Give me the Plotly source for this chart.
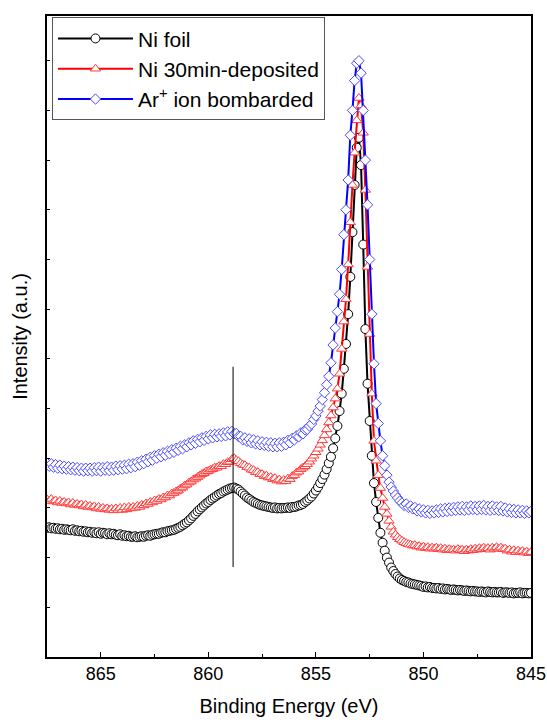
import numpy as np
import plotly.graph_objects as go

# Binding energy grid (eV), 0.1 eV step, 867.5 -> 845.0
energy = np.round(867.5 - 0.1 * np.arange(226), 1)

# Intensities (a.u.)
ni_foil = [
    2.60, 2.61, 2.59, 2.60, 2.58, 2.59, 2.57, 2.58, 2.56, 2.57,
    2.56, 2.55, 2.57, 2.54, 2.55, 2.53, 2.54, 2.52, 2.53, 2.51,
    2.52, 2.50, 2.51, 2.49, 2.51, 2.48, 2.50, 2.49, 2.47, 2.49,
    2.47, 2.48, 2.46, 2.45, 2.47, 2.44, 2.45, 2.43, 2.44, 2.42,
    2.42, 2.43, 2.41, 2.42, 2.43, 2.42, 2.44, 2.45, 2.44, 2.46,
    2.47, 2.48, 2.48, 2.50, 2.51, 2.51, 2.53, 2.54, 2.55, 2.56,
    2.58, 2.60, 2.62, 2.65, 2.68, 2.71, 2.75, 2.79, 2.84, 2.88,
    2.93, 2.97, 3.01, 3.05, 3.09, 3.12, 3.16, 3.19, 3.22, 3.25,
    3.28, 3.30, 3.33, 3.35, 3.37, 3.39, 3.40, 3.41, 3.39, 3.37,
    3.33, 3.29, 3.25, 3.21, 3.18, 3.15, 3.12, 3.10, 3.08, 3.06,
    3.05, 3.04, 3.03, 3.02, 3.01, 3.00, 3.01, 2.99, 3.00, 2.99,
    3.00, 3.00, 3.01, 3.00, 3.02, 3.02, 3.03, 3.05, 3.06, 3.08,
    3.12, 3.15, 3.19, 3.23, 3.29, 3.35, 3.42, 3.50, 3.58, 3.67,
    3.78, 3.90, 4.03, 4.20, 4.40, 4.65, 4.95, 5.30, 5.80, 6.30,
    6.90, 7.65, 8.55, 9.50, 10.25, 10.45, 9.90, 8.30, 6.60, 5.50,
    4.75, 4.05, 3.50, 3.12, 2.80, 2.50, 2.30, 2.14, 2.00, 1.90,
    1.80, 1.73, 1.67, 1.62, 1.58, 1.55, 1.53, 1.51, 1.50, 1.48,
    1.47, 1.46, 1.45, 1.44, 1.43, 1.41, 1.42, 1.40, 1.41, 1.39,
    1.39, 1.38, 1.39, 1.37, 1.38, 1.36, 1.37, 1.36, 1.35, 1.36,
    1.35, 1.34, 1.35, 1.34, 1.33, 1.34, 1.33, 1.32, 1.33, 1.32,
    1.32, 1.31, 1.32, 1.31, 1.30, 1.32, 1.31, 1.30, 1.31, 1.30,
    1.30, 1.31, 1.29, 1.30, 1.30, 1.29, 1.30, 1.28, 1.29, 1.29,
    1.30, 1.28, 1.29, 1.29, 1.28, 1.29,
]

ni_30min = [
    3.17, 3.14, 3.18, 3.13, 3.15, 3.11, 3.14, 3.10, 3.12, 3.09,
    3.11, 3.07, 3.10, 3.06, 3.08, 3.05, 3.07, 3.03, 3.06, 3.02,
    3.04, 3.01, 3.03, 2.99, 3.02, 2.98, 3.00, 2.97, 2.99, 2.96,
    2.98, 2.95, 2.99, 2.96, 3.00, 2.96, 3.01, 2.97, 3.02, 2.99,
    3.02, 3.00, 3.04, 3.02, 3.06, 3.05, 3.09, 3.08, 3.12, 3.11,
    3.15, 3.14, 3.18, 3.17, 3.21, 3.21, 3.25, 3.25, 3.29, 3.30,
    3.33, 3.35, 3.39, 3.41, 3.45, 3.47, 3.51, 3.53, 3.57, 3.59,
    3.62, 3.65, 3.68, 3.70, 3.73, 3.74, 3.77, 3.78, 3.81, 3.81,
    3.84, 3.84, 3.88, 3.88, 3.92, 3.93, 3.98, 4.00, 3.96, 3.94,
    3.90, 3.87, 3.86, 3.82, 3.81, 3.77, 3.76, 3.72, 3.72, 3.68,
    3.68, 3.64, 3.65, 3.61, 3.62, 3.58, 3.60, 3.55, 3.57, 3.53,
    3.56, 3.54, 3.59, 3.58, 3.64, 3.66, 3.71, 3.73, 3.78, 3.81,
    3.84, 3.88, 3.93, 3.99, 4.05, 4.12, 4.19, 4.27, 4.36, 4.46,
    4.58, 4.72, 4.86, 5.02, 5.20, 5.40, 5.70, 6.20, 6.75, 7.20,
    7.90, 8.75, 9.50, 10.15, 10.80, 11.25, 11.10, 10.55, 9.40, 7.85,
    6.50, 5.30, 4.35, 3.95, 3.66, 3.40, 3.20, 3.02, 2.88, 2.74,
    2.62, 2.52, 2.46, 2.41, 2.37, 2.34, 2.31, 2.29, 2.27, 2.26,
    2.24, 2.25, 2.22, 2.23, 2.20, 2.22, 2.19, 2.21, 2.18, 2.20,
    2.18, 2.20, 2.17, 2.19, 2.16, 2.18, 2.15, 2.17, 2.15, 2.16,
    2.14, 2.17, 2.15, 2.16, 2.13, 2.16, 2.14, 2.17, 2.15, 2.18,
    2.16, 2.19, 2.17, 2.20, 2.17, 2.19, 2.16, 2.20, 2.18, 2.21,
    2.18, 2.20, 2.17, 2.18, 2.14, 2.16, 2.12, 2.15, 2.11, 2.14,
    2.11, 2.13, 2.10, 2.12, 2.09, 2.11,
]

ar_bombarded = [
    3.90, 3.84, 3.89, 3.82, 3.87, 3.80, 3.86, 3.79, 3.84, 3.78,
    3.83, 3.77, 3.82, 3.76, 3.81, 3.75, 3.80, 3.74, 3.80, 3.75,
    3.80, 3.74, 3.81, 3.75, 3.82, 3.74, 3.81, 3.76, 3.83, 3.75,
    3.82, 3.76, 3.84, 3.77, 3.85, 3.78, 3.86, 3.79, 3.88, 3.81,
    3.89, 3.83, 3.92, 3.86, 3.95, 3.89, 3.98, 3.93, 4.02, 3.96,
    4.05, 4.00, 4.08, 4.03, 4.11, 4.06, 4.14, 4.09, 4.17, 4.12,
    4.20, 4.16, 4.24, 4.19, 4.27, 4.23, 4.31, 4.27, 4.35, 4.30,
    4.38, 4.33, 4.41, 4.36, 4.44, 4.39, 4.47, 4.41, 4.48, 4.43,
    4.49, 4.44, 4.51, 4.45, 4.53, 4.47, 4.54, 4.49, 4.50, 4.44,
    4.44, 4.37, 4.41, 4.34, 4.39, 4.31, 4.37, 4.29, 4.35, 4.27,
    4.33, 4.26, 4.32, 4.24, 4.31, 4.23, 4.30, 4.23, 4.31, 4.24,
    4.32, 4.27, 4.36, 4.31, 4.40, 4.37, 4.45, 4.43, 4.51, 4.49,
    4.57, 4.58, 4.65, 4.69, 4.78, 4.85, 4.95, 5.05, 5.18, 5.32,
    5.48, 5.65, 5.92, 6.28, 6.62, 6.95, 7.30, 7.80, 8.50, 9.00,
    9.60, 10.50, 11.00, 11.60, 11.95, 12.00, 11.75, 11.00, 10.00, 9.10,
    8.00, 6.90, 5.90, 5.10, 4.70, 4.35, 4.05, 3.85, 3.66, 3.52,
    3.42, 3.34, 3.26, 3.20, 3.14, 3.10, 3.05, 3.08, 3.01, 3.04,
    2.98, 3.01, 2.94, 2.98, 2.92, 2.96, 2.90, 2.95, 2.89, 2.94,
    2.90, 2.96, 2.91, 2.98, 2.92, 2.99, 2.93, 3.00, 2.94, 3.01,
    2.95, 3.02, 2.96, 3.03, 2.95, 3.02, 2.96, 3.04, 2.97, 3.03,
    2.96, 3.04, 2.97, 3.05, 2.96, 3.03, 2.95, 3.04, 2.96, 3.02,
    2.95, 3.03, 2.94, 3.00, 2.92, 2.98, 2.91, 2.97, 2.90, 2.96,
    2.90, 2.95, 2.89, 2.94, 2.90, 2.93,
]

# Satellite marker line position (eV) and its vertical extent (a.u.)
sat_energy = [858.85, 858.85]
sat_span = [1.81, 5.84]

x_ticks = [865, 860, 855, 850, 845]

FONT = "Arial, Liberation Sans, Helvetica, sans-serif"

fig = go.Figure()

series = [
    ("Ni foil", ni_foil, "black", "black", "circle", 9),
    ("Ni 30min-deposited", ni_30min, "red", "#ff3a3a", "triangle-up", 9),
    ("Ar<sup>+</sup> ion bombarded", ar_bombarded, "blue", "#4a4aff", "diamond", 8),
]
for name, vals, lc, mc, sym, sz in series:
    fig.add_trace(go.Scatter(
        x=energy, y=vals, name=name, mode="lines+markers",
        line=dict(color=lc, width=2),
        marker=dict(symbol=sym, size=sz, color="white",
                    line=dict(color=mc, width=1)),
    ))

fig.add_trace(go.Scatter(
    x=sat_energy, y=sat_span, mode="lines", showlegend=False,
    line=dict(color="black", width=1), hoverinfo="skip",
))

fig.update_layout(
    width=547, height=722,
    margin=dict(l=47, r=16, t=16, b=65, autoexpand=False),
    paper_bgcolor="white", plot_bgcolor="white",
    font=dict(family=FONT, color="black", size=18),
    legend=dict(
        x=0.0103, y=0.998, xanchor="left", yanchor="top",
        bordercolor="#555555", borderwidth=1, bgcolor="white",
        font=dict(family=FONT, size=21, color="black"),
        itemwidth=75, tracegroupgap=0,
    ),
    showlegend=True,
)

fig.update_xaxes(
    range=[867.5, 845], tickvals=x_ticks, automargin=False,
    ticks="inside", ticklen=5, tickwidth=1, tickcolor="black",
    minor=dict(dtick=2.5, tick0=845, ticks="inside", ticklen=3, tickcolor="black"),
    showline=True, linecolor="black", linewidth=1.5, mirror=True,
    showgrid=False, zeroline=False,
    tickfont=dict(size=18),
    title=dict(text="Binding Energy (eV)", font=dict(size=20), standoff=16),
)
fig.update_yaxes(
    range=[0, 12.9], tick0=0, dtick=1, automargin=False,
    ticks="inside", ticklen=3, tickwidth=1, tickcolor="black",
    showticklabels=False,
    showline=True, linecolor="black", linewidth=1.5, mirror=True,
    showgrid=False, zeroline=False,
    title=dict(text="Intensity (a.u.)", font=dict(size=20), standoff=12),
)

# Remove the default page margin so the 547x722 figure fills the window.
fig.write_html(
    "out.html",
    config={"displayModeBar": False},
    post_script="document.body.style.margin='0';document.body.style.overflow='hidden';",
)
